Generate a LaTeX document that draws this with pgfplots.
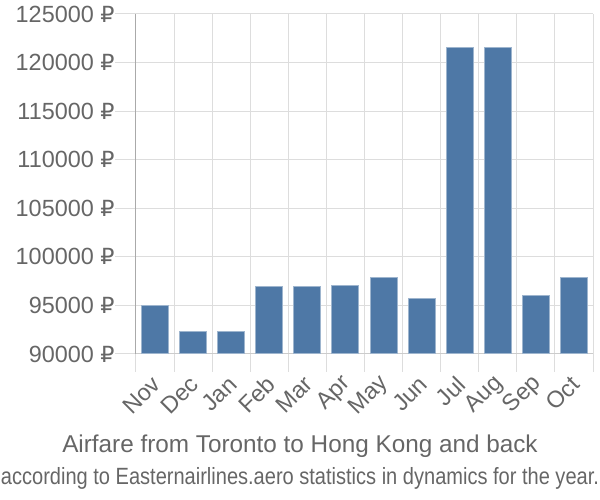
\documentclass[border=0pt]{standalone}
\usepackage{pgfplots}
\pgfplotsset{compat=1.18}
\usepackage{graphicx}
\usepackage{fontspec}
\setmainfont{Liberation Sans}
\newfontfamily\rub{DejaVu Sans}[Scale=0.95]
\definecolor{barc}{HTML}{4E78A6}
\definecolor{gridc}{HTML}{DDDDDD}
\definecolor{xaxc}{HTML}{CCCCCC}
\definecolor{yaxc}{HTML}{AAAAAA}
\definecolor{txtc}{HTML}{666666}
\begin{document}
\begin{tikzpicture}
\path[use as bounding box] (0,0) rectangle (600pt,500pt);
\begin{axis}[
  at={(136pt,146pt)}, anchor=south west,
  scale only axis, width=457pt, height=340pt,
  xmin=-0.5, xmax=11.5, ymin=90000, ymax=125000,
  axis x line*=bottom, axis y line*=left,
  ybar, bar width=27pt,
  xtick={0,...,11},
  xticklabels={Nov,Dec,Jan,Feb,Mar,Apr,May,Jun,Jul,Aug,Sep,Oct},
  minor xtick={-0.5,0.5,...,11.5},
  ytick={90000,95000,...,125000},
  scaled y ticks=false,
  yticklabels={90000 {\rub ₽},95000 {\rub ₽},100000 {\rub ₽},105000 {\rub ₽},110000 {\rub ₽},115000 {\rub ₽},120000 {\rub ₽},125000 {\rub ₽}},
  ymajorgrids, xminorgrids,
  major grid style={draw=gridc, line width=1pt},
  minor grid style={draw=gridc, line width=1pt},
  tick align=outside,
  major tick length=21pt, minor tick length=18pt,
  major x tick style={draw=none},
  ytick style={draw=gridc, line width=1pt},
  minor x tick style={draw=gridc, line width=1pt},
  x axis line style={draw=xaxc, line width=1pt, -},
  y axis line style={draw=yaxc, line width=1pt, -},
  tick label style={font=\fontsize{23.4}{27}\selectfont, text=txtc},
  xticklabel style={xshift=4pt, yshift=-3pt, rotate=45, anchor=east},
  yticklabel style={xshift=3pt},
]
\addplot[fill=barc, draw=barc!55!white, line width=1pt] coordinates {
(0,94970) (1,92340) (2,92340) (3,96930) (4,96930) (5,97100)
(6,97860) (7,95730) (8,121570) (9,121570) (10,96040) (11,97860)};
\end{axis}
\node[text=txtc, font=\fontsize{24.3}{29}\selectfont] at (300pt,54pt) {Airfare from Toronto to Hong Kong and back};
\node[text=txtc, font=\fontsize{23.5}{28}\selectfont, inner sep=0pt] at (300pt,22pt) {\resizebox{598pt}{\height}{according to Easternairlines.aero statistics in dynamics for the year.}};
\end{tikzpicture}
\end{document}
